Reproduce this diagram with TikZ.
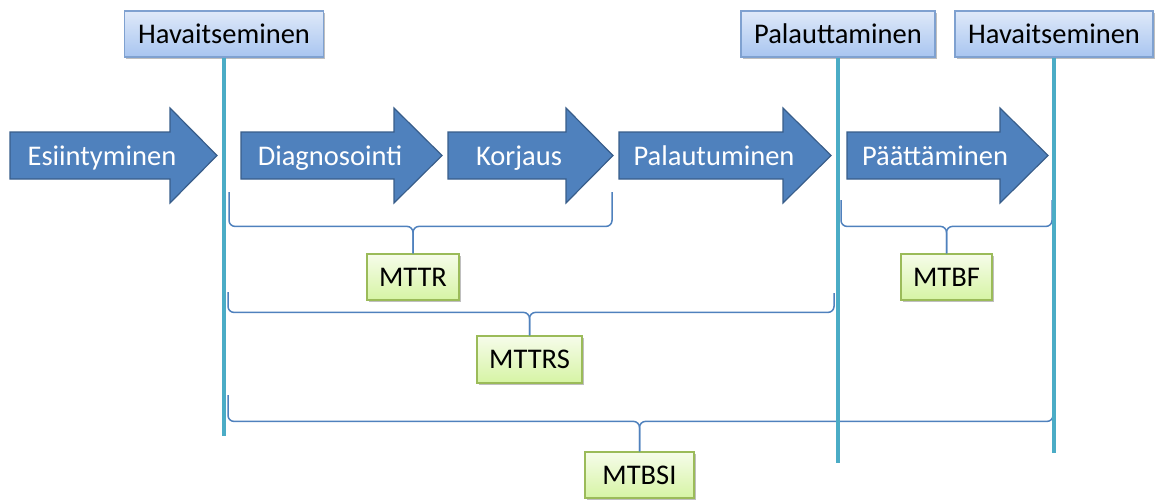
\documentclass[tikz,border=0pt]{standalone}
\usepackage{fontspec}
\setmainfont{Carlito}
\usetikzlibrary{shadows}
\definecolor{arrowfill}{HTML}{4F81BD}
\definecolor{arrowdraw}{HTML}{385D8A}
\definecolor{vlinecol}{HTML}{4BACC6}
\definecolor{bracecol}{HTML}{4F81BD}
\definecolor{hdtop}{HTML}{DFE9F9}
\definecolor{hdbot}{HTML}{A8C5F0}
\definecolor{hddraw}{HTML}{7FA1D0}
\definecolor{grtop}{HTML}{F6FCEA}
\definecolor{grbot}{HTML}{D6F4A4}
\definecolor{grdraw}{HTML}{9BBB59}
\tikzset{
  bigfont/.style={font=\fontsize{28.5}{30}\selectfont},
  boxbase/.style={bigfont, rectangle, inner sep=0pt, text height=18.3pt, text depth=0pt,
    minimum height=46pt, line width=1.2pt,
    drop shadow={shadow xshift=1.5pt, shadow yshift=-2pt, fill=black, opacity=0.25}},
  headbox/.style={boxbase, draw=hddraw, top color=hdtop, bottom color=hdbot},
  greenbox/.style={boxbase, draw=grdraw, top color=grtop, bottom color=grbot},
  arrowshape/.style={fill=arrowfill, draw=arrowdraw, line width=1.2pt, line join=miter},
  arrowlabel/.style={bigfont, text=white, anchor=base, inner sep=0pt},
  vline/.style={draw=vlinecol, line width=4.5pt},
  brace/.style={draw=bracecol, line width=1.5pt, rounded corners=6pt},
}
\newcommand\blockarrow[3]{%
  \draw[arrowshape] (#1,132) -- (#2,132) -- (#2,108) -- (#3,155.5) -- (#2,203) -- (#2,179) -- (#1,179) -- cycle;}
\begin{document}
\begin{tikzpicture}[x=1pt,y=-1pt]
\useasboundingbox (0,0) rectangle (1156,499);
% block arrows
\blockarrow{10}{170}{217}
\blockarrow{241}{394}{442}
\blockarrow{448}{566}{613}
\blockarrow{619}{783}{831}
\blockarrow{847}{1000}{1048}
\node[arrowlabel] (esi) at (102,165) {Esiintyminen};
\node[arrowlabel] (dia) at (330,165) {Diagnosointi};
\node[arrowlabel] (kor) at (519,165) {Korjaus};
\node[arrowlabel] (pal) at (714,165) {Palautuminen};
\node[arrowlabel] (paa) at (935,165) {Päättäminen};
% metric boxes
\node[greenbox, minimum width=92pt] (mttr) at (413,277) {MTTR};
\node[greenbox, minimum width=105pt, minimum height=47pt] (mttrs) at (529.5,359.5) {MTTRS};
\node[greenbox, minimum width=91pt] (mtbf) at (946.5,277) {MTBF};
\node[greenbox, minimum width=109pt] (mtbsi) at (639.5,475) {MTBSI};
% brace coordinates
\coordinate (b1l) at (229,192);
\coordinate (b1r) at (612,192);
\path (mttr.north) ++(0,-27) coordinate (b1m);
\coordinate (b2l) at (228,292);
\coordinate (b2r) at (834,293);
\path (mttrs.north) ++(0,-23) coordinate (b2m);
\coordinate (b3l) at (228,395);
\coordinate (b3r) at (1053,392);
\path (mtbsi.north) ++(0,-30) coordinate (b3m);
\coordinate (b4l) at (841,200);
\coordinate (b4r) at (1052,200);
\path (mtbf.north) ++(0,-27) coordinate (b4m);
% braces
\draw[brace] (b1l) |- (b1m) -- (mttr.north);
\draw[brace] (b1r) |- (b1m) -- (mttr.north);
\draw[brace] (b2l) |- (b2m) -- (mttrs.north);
\draw[brace] (b2r) |- (b2m) -- (mttrs.north);
\draw[brace] (b3l) |- (b3m) -- (mtbsi.north);
\draw[brace] (b3r) |- (b3m) -- (mtbsi.north);
\draw[brace] (b4l) |- (b4m) -- (mtbf.north);
\draw[brace] (b4r) |- (b4m) -- (mtbf.north);
% header boxes
\node[headbox, minimum width=199pt] (hav1) at (224,34) {Havaitseminen};
\node[headbox, minimum width=194pt] (palt) at (838,34) {Palauttaminen};
\node[headbox, minimum width=198pt] (hav2) at (1054,34) {Havaitseminen};
% vertical lines
\coordinate (e1) at (224,436);
\coordinate (e2) at (838,463);
\coordinate (e3) at (1054,453);
\draw[vline] (hav1.south) -- (e1);
\draw[vline] (palt.south) -- (e2);
\draw[vline] (hav2.south) -- (e3);
\end{tikzpicture}
\end{document}
